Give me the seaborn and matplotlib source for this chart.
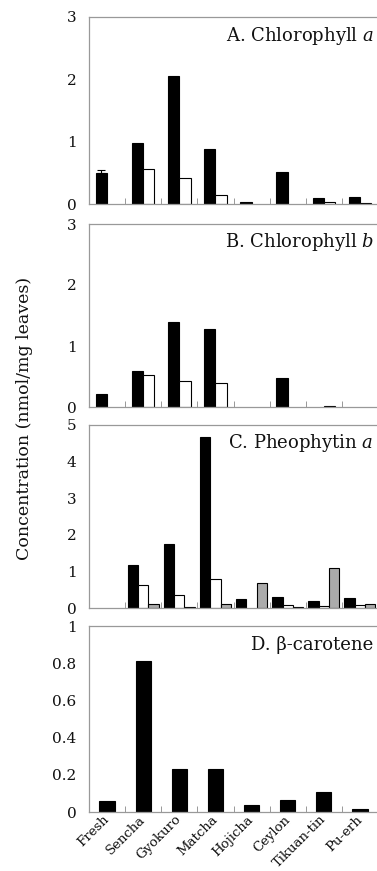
import matplotlib
matplotlib.use("Agg")
import matplotlib.pyplot as plt
import numpy as np
import pandas as pd
import seaborn as sns
from matplotlib.ticker import FixedLocator, FuncFormatter

sns.set_theme(style="white")
plt.rcParams['font.family'] = ['DejaVu Serif']
plt.rcParams['mathtext.fontset'] = 'dejavuserif'

teas = ["Fresh", "Sencha", "Gyokuro", "Matcha", "Hojicha", "Ceylon", "Tikuan-tin", "Pu-erh"]

# Panel A: Chlorophyll a
chla_black = [0.50, 0.98, 2.05, 0.89, 0.04, 0.52, 0.10, 0.12]
chla_white = [np.nan, 0.56, 0.41, 0.15, np.nan, np.nan, 0.04, 0.01]
fresh_chla_err = 0.04

# Panel B: Chlorophyll b
chlb_black = [0.21, 0.59, 1.40, 1.28, np.nan, 0.48, np.nan, np.nan]
chlb_white = [np.nan, 0.52, 0.42, 0.40, np.nan, np.nan, 0.02, np.nan]

# Panel C: Pheophytin a
pheo_black = [np.nan, 1.17, 1.75, 4.68, 0.25, 0.30, 0.20, 0.28]
pheo_white = [np.nan, 0.62, 0.36, 0.79, np.nan, 0.07, 0.06, 0.07]
pheo_gray = [np.nan, 0.11, 0.03, 0.11, 0.69, 0.04, 1.08, 0.12]

# Panel D: beta-carotene
bcar = [0.06, 0.81, 0.23, 0.23, 0.04, 0.063, 0.105, 0.014]

titles = ["A. Chlorophyll $\\mathit{a}$", "B. Chlorophyll $\\mathit{b}$",
          "C. Pheophytin $\\mathit{a}$", "D. \u03b2-carotene"]
yticks = [[0, 1, 2, 3], [0, 1, 2, 3], [0, 1, 2, 3, 4, 5], [0, 0.2, 0.4, 0.6, 0.8, 1]]
ylabel = "Concentration (nmol/mg leaves)"

W, H = 377, 871
fig = plt.figure(figsize=(W / 100, H / 100), dpi=100)

def frac(top, bottom):
    return [89 / W, 1 - bottom / H, 289 / W, (bottom - top) / H]

rects = [frac(17, 204), frac(224, 407), frac(425, 608), frac(626, 812)]
axes = [fig.add_axes(r) for r in rects]

colors = {"s1": "black", "s2": "white", "s3": "#ababab"}

def long_df(series):
    rows = []
    for name, vals in series.items():
        for t, v in zip(teas, vals):
            rows.append({"tea": t, "series": name, "value": v})
    return pd.DataFrame(rows)

datasets = [
    ({"s1": chla_black, "s2": chla_white}, 0.62),
    ({"s1": chlb_black, "s2": chlb_white}, 0.62),
    ({"s1": pheo_black, "s2": pheo_white, "s3": pheo_gray}, 0.86),
    ({"s1": bcar}, 0.42),
]

for i, (ax, (series, width)) in enumerate(zip(axes, datasets)):
    df = long_df(series).dropna()
    order_h = list(series.keys())
    if len(order_h) > 1:
        sns.barplot(data=df, x="tea", y="value", hue="series", order=teas,
                    hue_order=order_h, palette={k: colors[k] for k in order_h},
                    width=width, edgecolor="black", linewidth=0.8,
                    errorbar=None, legend=False, ax=ax)
    else:
        sns.barplot(data=df, x="tea", y="value", order=teas, color="black",
                    width=width, edgecolor="black", linewidth=0.8,
                    errorbar=None, ax=ax)
    ax.set_xlim(-0.5, len(teas) - 0.5)
    ax.set_ylim(0, yticks[i][-1])
    ax.set_yticks(yticks[i])
    ax.yaxis.set_major_formatter(FuncFormatter(lambda v, p: f"{v:g}"))
    ax.tick_params(axis="y", length=0, pad=9, labelsize=11, labelcolor="#111111")
    ax.set_xlabel("")
    ax.set_ylabel("")
    ax.xaxis.set_minor_locator(FixedLocator(np.arange(0.5, len(teas) - 0.5, 1)))
    ax.tick_params(axis="x", which="minor", direction="in", length=4, width=0.6,
                   color="#888888", bottom=True)
    ax.tick_params(axis="x", which="major", length=0)
    for side in ["left", "top", "bottom"]:
        ax.spines[side].set_visible(True)
        ax.spines[side].set_color("#999999")
        ax.spines[side].set_linewidth(0.9)
    ax.spines["right"].set_visible(False)
    ax.text(0.985, 0.90, titles[i], transform=ax.transAxes, ha="right", va="center",
            fontsize=13, color="#111111")
    if i < 3:
        ax.set_xticklabels([])
    else:
        ax.set_xticks(range(len(teas)))
        ax.set_xticklabels(teas, rotation=45, ha="right", va="center",
                           rotation_mode="anchor", fontsize=9.5, color="#111111")
        ax.tick_params(axis="x", which="major", pad=4)

# error bar on Fresh chlorophyll a
p0 = axes[0].patches[0]
cx = p0.get_x() + p0.get_width() / 2
axes[0].errorbar([cx], [chla_black[0]], yerr=[[0], [fresh_chla_err]], fmt="none",
                 ecolor="black", elinewidth=0.8, capsize=3, capthick=0.8)

fig.text(25 / W, 1 - 418 / H, ylabel, rotation=90, ha="center", va="center",
         fontsize=12.5, color="#111111")

fig.savefig("out.png", dpi=100)
